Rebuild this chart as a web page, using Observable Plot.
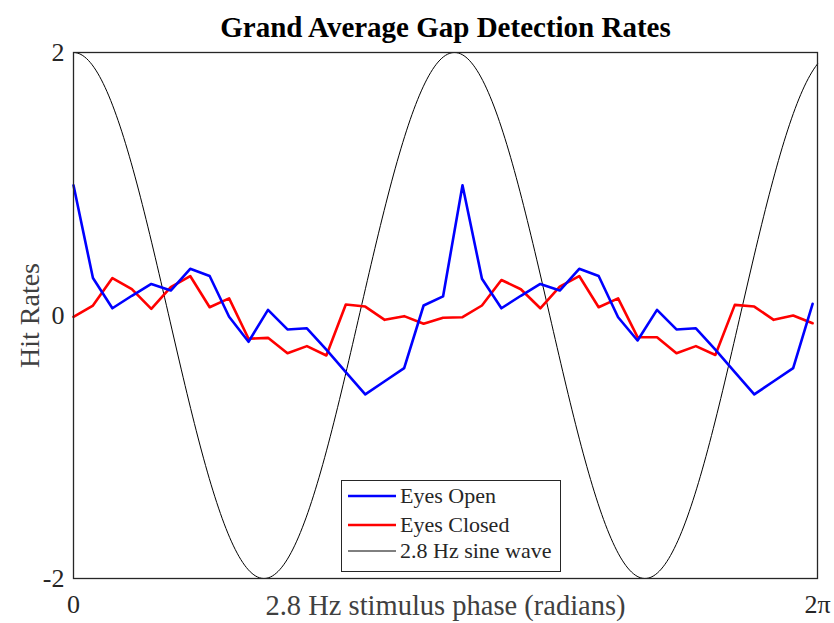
<!DOCTYPE html>
<html><head><meta charset="utf-8">
<script src="https://cdn.jsdelivr.net/npm/d3@7"></script>
<script src="https://cdn.jsdelivr.net/npm/@observablehq/plot@0.6"></script>
<style>
body{margin:0;background:#fff}
#chart{position:relative;width:834px;height:623px;font-family:"Liberation Serif","Times New Roman",serif}
#chart svg{font-family:"Liberation Serif","Times New Roman",serif}
#legend{position:absolute;left:341px;top:480px;width:218px;height:90px;border:1px solid #262626;background:#fff;font-size:22px;color:#262626}
#legend .row{position:absolute;left:6px;height:26px;display:flex;align-items:center;white-space:nowrap}
#legend .sw{width:48px;margin-right:4px}
</style>
</head><body><div id="chart"></div>
<script>
const title = "Grand Average Gap Detection Rates";
const xLabel = "2.8 Hz stimulus phase (radians)";
const yLabel = "Hit Rates";
const yTicks = [-2, 0, 2];
const xTicks = [0, 2 * Math.PI];
const xTickLabels = ["0", "2π"];
const seriesNames = ["Eyes Open", "Eyes Closed", "2.8 Hz sine wave"];
const seriesColors = ["#0000ff", "#ff0000", "#000000"];

// phase bin spacing (radians) and sine reference parameters
const phaseStep = 0.16426;
const sineAmplitude = 2;
const sinePeriod = 3.2175;

const eyesOpen = [0.99,0.285,0.055,0.15,0.24,0.19,0.355,0.30,-0.01,-0.20,0.043,-0.106,-0.097,-0.26,-0.43,-0.60,-0.50,-0.40,0.076,0.145,
                  0.99,0.28,0.055,0.15,0.24,0.19,0.355,0.30,-0.013,-0.19,0.043,-0.106,-0.097,-0.26,-0.43,-0.60,-0.50,-0.40,0.089];
const eyesClosed = [-0.01,0.076,0.285,0.20,0.05,0.215,0.30,0.063,0.13,-0.177,-0.17,-0.287,-0.233,-0.304,0.084,0.068,-0.033,-0.005,-0.063,-0.017,
                    -0.013,0.076,0.27,0.20,0.055,0.22,0.30,0.063,0.13,-0.165,-0.165,-0.287,-0.233,-0.30,0.081,0.068,-0.033,0.0,-0.059];

const openData = eyesOpen.map((v, i) => ({x: i * phaseStep, y: v}));
const closedData = eyesClosed.map((v, i) => ({x: i * phaseStep, y: v}));
const sineData = d3.range(0, 401).map(i => {
  const x = i / 400 * 2 * Math.PI;
  return {x, y: sineAmplitude * Math.cos(2 * Math.PI * x / sinePeriod)};
});

const plot = Plot.plot({
  width: 834, height: 623,
  marginLeft: 73, marginRight: 17, marginTop: 52, marginBottom: 45,
  x: {domain: [0, 2 * Math.PI]},
  y: {domain: [-2, 2]},
  marks: [
    Plot.line(sineData, {x: "x", y: "y", stroke: seriesColors[2], strokeWidth: 1}),
    Plot.line(closedData, {x: "x", y: "y", stroke: seriesColors[1], strokeWidth: 2.6}),
    Plot.line(openData, {x: "x", y: "y", stroke: seriesColors[0], strokeWidth: 2.6}),
    Plot.frame({stroke: "#262626", strokeWidth: 1.3}),
    Plot.axisY({ticks: yTicks, tickSize: 0, tickPadding: 9, fontSize: 26, label: null, tickFormat: d => d < 0 ? "-" + Math.abs(d) : String(d), fill: "#262626"}),
    Plot.axisX({ticks: xTicks, tickSize: 0, tickPadding: 16, fontSize: 26, label: null, tickFormat: (d, i) => xTickLabels[i], fill: "#262626"}),
    Plot.text([yLabel], {frameAnchor: "left", textAnchor: "middle", dx: -43, rotate: -90, fontSize: 28, fill: "#404040"}),
    Plot.text([xLabel], {frameAnchor: "bottom", textAnchor: "middle", lineAnchor: "middle", dy: 27, fontSize: 28.5, fill: "#404040"}),
    Plot.text([title], {frameAnchor: "top", lineAnchor: "middle", dy: -25, fontSize: 29, fontWeight: "bold", fill: "#000"})
  ]
});
const chart = document.getElementById("chart");
chart.appendChild(plot);

const legend = document.createElement("div");
legend.id = "legend";
const rowTops = [2, 31, 57];
const widths = [2.6, 2.6, 1];
seriesNames.forEach((name, i) => {
  const row = document.createElement("div");
  row.className = "row";
  row.style.top = rowTops[i] + "px";
  row.innerHTML = `<svg class="sw" width="48" height="10"><line x1="0" x2="48" y1="5" y2="5" stroke="${seriesColors[i]}" stroke-width="${widths[i]}"/></svg><span>${name}</span>`;
  legend.appendChild(row);
});
chart.appendChild(legend);
</script>
</body></html>
